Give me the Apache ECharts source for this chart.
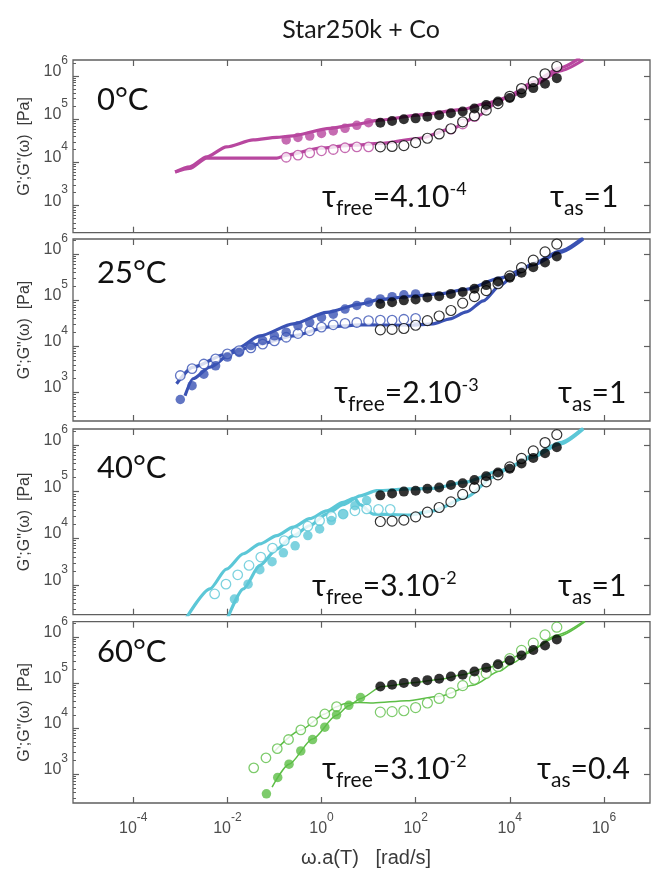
<!DOCTYPE html>
<html><head><meta charset="utf-8">
<script src="https://cdn.jsdelivr.net/npm/echarts@6/dist/echarts.min.js"></script>
<style>html,body{margin:0;padding:0;background:#fff}#c{width:652px;height:869px}</style>
</head><body><div id="c"></div>
<script>
// ---------------- DATA (log10 values) ----------------
const xTickExps = [-4, -2, 0, 2, 4, 6];
const yTickExps = [3, 4, 5, 6];
const panelTemps = ['0°C', '25°C', '40°C', '60°C'];
const tauFreeMant = ['4', '2', '3', '3'];
const tauFreeExp = ['-4', '-3', '-2', '-2'];
const tauAsVals = ['1', '1', '1', '0.4'];
const xRangeExp = [-5.28, 6.98];
const yMinExp = [2.375, 2.384, 2.366, 2.37];
const yMaxExp = [6.37, 6.33, 6.34, 6.34];

// reference (black) data, shared by the four panels
const refLogW   = [1.25, 1.5, 1.75, 2.0, 2.25, 2.5, 2.75, 3.0, 3.25, 3.5, 3.75, 4.0, 4.25, 4.5, 4.75, 5.0];
const refLogGp  = [4.92, 4.96, 5.00, 5.02, 5.06, 5.09, 5.14, 5.18, 5.25, 5.33, 5.41, 5.49, 5.60, 5.72, 5.82, 5.95];
const refLogGpp = [4.36, 4.37, 4.39, 4.46, 4.56, 4.66, 4.78, 4.94, 5.08, 5.21, 5.36, 5.53, 5.71, 5.87, 6.05, 6.22];

// panel 1 : 0°C
const p1GpW  = [-0.75, -0.5, -0.25, 0, 0.25, 0.5, 0.75, 1.0];
const p1GpV  = [4.52, 4.58, 4.61, 4.67, 4.73, 4.79, 4.86, 4.92];
const p1GppW = [-0.75, -0.5, -0.25, 0, 0.25, 0.5, 0.75, 1.0, 2.75, 3.0, 3.25];
const p1GppV = [4.12, 4.17, 4.22, 4.27, 4.30, 4.34, 4.36, 4.36, 4.77, 4.89, 5.06];
const p1FitGpW  = [-3.11, -2.80, -2.44, -2.02, -1.45, -0.95, -0.67, 0.18, 0.67, 1.24, 2.09, 3.01, 3.51, 4.0, 4.50, 5.07, 5.56];
const p1FitGpV  = [3.78, 3.90, 4.13, 4.36, 4.52, 4.58, 4.61, 4.79, 4.87, 4.98, 5.10, 5.23, 5.37, 5.52, 5.79, 6.12, 6.37];
const p1FitGppW = [-3.11, -2.80, -2.44, -0.95, -0.74, -0.03, 0.67, 1.24, 2.09, 2.79, 3.30, 3.72, 4.0, 4.5, 5.07, 5.49];
const p1FitGppV = [3.78, 3.86, 4.10, 4.10, 4.17, 4.33, 4.40, 4.44, 4.56, 4.79, 5.06, 5.37, 5.56, 5.86, 6.19, 6.42];

// panel 2 : 25°C
const p2GpW  = [-3.0, -2.75, -2.5, -2.25, -2.0, -1.75, -1.5, -1.25, -1.0, -0.75, -0.5, -0.25, 0, 0.25, 0.5, 0.75, 1.0, 1.25, 1.5, 1.75, 2.0];
const p2GpV  = [2.85, 3.15, 3.40, 3.58, 3.77, 3.87, 4.02, 4.13, 4.23, 4.31, 4.45, 4.52, 4.63, 4.70, 4.81, 4.89, 4.96, 5.03, 5.08, 5.12, 5.14];
const p2GppW = [-3.0, -2.75, -2.5, -2.25, -2.0, -1.75, -1.5, -1.25, -1.0, -0.75, -0.5, -0.25, 0, 0.25, 0.5, 0.75, 1.0, 1.25, 1.5, 1.75, 2.0];
const p2GppV = [3.37, 3.52, 3.62, 3.73, 3.84, 3.91, 3.97, 4.05, 4.12, 4.20, 4.28, 4.34, 4.42, 4.47, 4.50, 4.52, 4.56, 4.57, 4.57, 4.59, 4.61];
const p2FitGpW  = [-2.90, -2.73, -2.37, -1.80, -1.31, -0.60, 0.11, 0.82, 1.25, 2.0, 2.5, 3.08, 3.79, 4.50, 5.07, 5.56];
const p2FitGpV  = [2.93, 3.30, 3.55, 3.95, 4.23, 4.49, 4.74, 4.92, 5.02, 5.10, 5.14, 5.24, 5.48, 5.77, 6.04, 6.33];
const p2FitGppW = [-3.08, -2.73, -2.02, -1.31, -0.60, 0.11, 0.82, 1.88, 2.37, 2.73, 3.08, 3.44, 3.79, 4.1, 4.5, 5.07, 5.56];
const p2FitGppV = [3.19, 3.55, 3.84, 4.05, 4.23, 4.42, 4.47, 4.46, 4.49, 4.60, 4.75, 4.99, 5.32, 5.55, 5.80, 6.07, 6.36];

// panel 3 : 40°C
const p3GpW  = [-1.85, -1.56, -1.31, -1.05, -0.81, -0.56, -0.29, -0.04, 0.21, 0.46, 0.71, 0.96];
const p3GpV  = [2.70, 3.02, 3.33, 3.50, 3.69, 3.84, 4.06, 4.20, 4.38, 4.52, 4.70, 4.81];
const p3GppW = [-2.27, -2.03, -1.78, -1.54, -1.29, -1.04, -0.79, -0.54, -0.29, -0.04, 0.21, 0.46, 0.71, 0.96, 1.21, 1.46];
const p3GppV = [2.81, 3.02, 3.22, 3.42, 3.60, 3.79, 3.95, 4.13, 4.26, 4.38, 4.47, 4.52, 4.59, 4.63, 4.62, 4.62];
const p3FitGpW  = [-2.0, -1.66, -1.31, -0.95, -0.60, -0.25, 0.11, 0.46, 0.82, 1.17, 1.88, 2.37, 3.08, 3.79, 4.50, 5.07, 5.56];
const p3FitGpV  = [2.28, 2.92, 3.42, 3.77, 4.06, 4.27, 4.52, 4.72, 4.91, 5.02, 5.06, 5.07, 5.21, 5.45, 5.74, 6.02, 6.34];
const p3FitGppW = [-2.90, -2.37, -2.02, -1.66, -1.31, -0.95, -0.60, -0.25, 0.11, 0.46, 0.70, 0.82, 1.10, 1.88, 2.37, 3.08, 3.65, 4.0, 4.5, 5.07, 5.56];
const p3FitGppV = [2.25, 2.92, 3.34, 3.67, 3.88, 4.06, 4.24, 4.42, 4.59, 4.77, 4.86, 4.72, 4.52, 4.50, 4.59, 4.88, 5.31, 5.52, 5.78, 6.05, 6.36];

// panel 4 : 60°C
const p4GpW  = [-1.17, -0.93, -0.69, -0.44, -0.19, 0.07, 0.32, 0.58, 0.83];
const p4GpV  = [2.57, 2.93, 3.22, 3.51, 3.76, 4.03, 4.30, 4.51, 4.68];
const p4GppW = [-1.44, -1.18, -0.94, -0.70, -0.44, -0.19, 0.07, 0.32];
const p4GppV = [3.14, 3.36, 3.56, 3.76, 3.97, 4.15, 4.32, 4.48];
const p4FitGpW  = [-1.05, -0.69, -0.19, 0.32, 0.58, 0.83, 1.28, 2.0, 2.52, 3.0, 3.51, 4.29, 5.01, 5.60];
const p4FitGpV  = [2.72, 3.22, 3.77, 4.29, 4.50, 4.66, 4.92, 5.01, 5.08, 5.18, 5.33, 5.62, 6.01, 6.34];
const p4FitGppW = [-1.0, -0.44, 0.07, 0.32, 0.5, 0.8, 1.10, 1.81, 2.52, 3.22, 3.79, 4.07, 4.5, 5.0, 5.6];
const p4FitGppV = [3.50, 3.97, 4.32, 4.48, 4.55, 4.57, 4.56, 4.61, 4.71, 4.95, 5.26, 5.44, 5.75, 6.05, 6.37];

// ---------------- LAYOUT / STYLE ----------------
const panels = [
  {gp: [p1GpW, p1GpV], gpp: [p1GppW, p1GppV], fgp: [p1FitGpW, p1FitGpV], fgpp: [p1FitGppW, p1FitGppV]},
  {gp: [p2GpW, p2GpV], gpp: [p2GppW, p2GppV], fgp: [p2FitGpW, p2FitGpV], fgpp: [p2FitGppW, p2FitGppV]},
  {gp: [p3GpW, p3GpV], gpp: [p3GppW, p3GppV], fgp: [p3FitGpW, p3FitGpV], fgpp: [p3FitGppW, p3FitGppV]},
  {gp: [p4GpW, p4GpV], gpp: [p4GppW, p4GppV], fgp: [p4FitGpW, p4FitGpV], fgpp: [p4FitGppW, p4FitGppV]}
];
const colors = ['#B8479F', '#3A52B4', '#5CC7D7', '#5DBE46'];
const fitWidths = [3.2, 3.2, 3.2, 1.5];
const refOpenColors = ['#000', '#000', '#000', '#5DBE46'];
const grids = [
  {top: 60, height: 172.7},
  {top: 239, height: 182},
  {top: 429, height: 185.7},
  {top: 621.7, height: 183.3}
];
const tempTops = [84, 257, 452, 636];
const tauTops = [176, 372, 565, 748];
const tauFreeLeft = [322, 334, 312, 322];
const tauAsLeft = [550, 558, 558, 537];

const pow10 = e => Math.pow(10, e);
const pts = (ws, vs) => ws.map((w, i) => [pow10(w), pow10(vs[i])]);
const xTicks = xTickExps.map(pow10);
const yTicks = yTickExps.map(pow10);

function minorTicks(minE, maxE) {
  const out = [];
  for (let e = Math.floor(minE); e <= Math.ceil(maxE); e++) {
    for (let m = 2; m <= 9; m++) {
      const v = m * pow10(e);
      if (v > pow10(minE) && v < pow10(maxE)) out.push(v);
    }
  }
  return out;
}

const tickFont = 'Liberation Sans, Arial, sans-serif';
const tickColor = '#4d4d4d';
const frameColor = '#5f5f5f';
const labelRich = {
  b: {fontSize: 16, lineHeight: 16, fontFamily: tickFont, color: tickColor, verticalAlign: 'bottom'},
  s: {fontSize: 12, lineHeight: 12, fontFamily: tickFont, color: tickColor, verticalAlign: 'bottom', padding: [0, 0, 13, 0]}
};
const expFormatter = v => '{b|10}{s|' + Math.round(Math.log10(v)) + '}';

const gridOpt = [], xAxes = [], yAxes = [], series = [];
const annFont = 'Lato, "Noto Sans", sans-serif';

grids.forEach((g, i) => {
  gridOpt.push({left: 73, right: 2, top: g.top, height: g.height, show: true,
    borderColor: frameColor, borderWidth: 1.3, backgroundColor: 'transparent'});
  const xBase = {
    type: 'log', gridIndex: i, min: pow10(xRangeExp[0]), max: pow10(xRangeExp[1]),
    axisLine: {show: false}, splitLine: {show: false}, minorTick: {show: false},
    axisTick: {show: true, inside: true, length: 6, customValues: xTicks, lineStyle: {color: frameColor, width: 1.2}}
  };
  xAxes.push(Object.assign({}, xBase, {
    position: 'bottom',
    axisLabel: {show: i === 3, customValues: xTicks, formatter: expFormatter, rich: labelRich, margin: 18},
    name: i === 3 ? 'ω.a(T)   [rad/s]' : '', nameLocation: 'middle', nameGap: 45,
    nameTextStyle: {fontSize: 20, fontFamily: tickFont, color: '#3a3a3a', padding: [0, 0, 0, 9]}
  }));
  xAxes.push(Object.assign({}, xBase, {position: 'top', axisLabel: {show: false}}));

  const yBase = {
    type: 'log', gridIndex: i, min: pow10(yMinExp[i]), max: pow10(yMaxExp[i]),
    axisLine: {show: false}, splitLine: {show: false}, minorTick: {show: false}
  };
  yAxes.push(Object.assign({}, yBase, {
    position: 'left',
    axisTick: {show: true, inside: true, length: 6, customValues: yTicks, lineStyle: {color: frameColor, width: 1.2}},
    axisLabel: {show: true, customValues: yTicks, formatter: expFormatter, rich: labelRich, margin: 5, padding: [0, 0, 9, 0]},
    name: 'G\';G"(ω)  [Pa]', nameLocation: 'middle', nameGap: 40,
    nameTextStyle: {fontSize: 16, fontFamily: tickFont, color: '#3a3a3a'}
  }));
  yAxes.push(Object.assign({}, yBase, {
    position: 'left',
    axisTick: {show: true, inside: true, length: 3, customValues: minorTicks(yMinExp[i], yMaxExp[i]), lineStyle: {color: frameColor, width: 1}},
    axisLabel: {show: false}
  }));
  yAxes.push(Object.assign({}, yBase, {
    position: 'right',
    axisTick: {show: true, inside: true, length: 6, customValues: yTicks, lineStyle: {color: frameColor, width: 1.2}},
    axisLabel: {show: false}
  }));

  const p = panels[i];
  const xi = 2 * i, yi = 3 * i;
  const lineBase = {type: 'line', xAxisIndex: xi, yAxisIndex: yi, symbol: 'none', smooth: 0.25,
    smoothMonotone: 'x', z: 2, silent: true, clip: true};
  series.push(Object.assign({}, lineBase, {name: 'fit G\' ' + panelTemps[i], data: pts(p.fgp[0], p.fgp[1]),
    lineStyle: {color: colors[i], width: fitWidths[i]}}));
  series.push(Object.assign({}, lineBase, {name: 'fit G" ' + panelTemps[i], data: pts(p.fgpp[0], p.fgpp[1]),
    lineStyle: {color: colors[i], width: fitWidths[i]}}));
  series.push({type: 'scatter', xAxisIndex: xi, yAxisIndex: yi, z: 3, symbol: 'circle', symbolSize: 9.5,
    data: pts(p.gpp[0], p.gpp[1]), itemStyle: {color: '#fff', borderColor: colors[i], borderWidth: 1.3}});
  series.push({type: 'scatter', xAxisIndex: xi, yAxisIndex: yi, z: 3, symbol: 'circle', symbolSize: 9.5,
    data: pts(p.gp[0], p.gp[1]), itemStyle: {color: colors[i]}});
  series.push({type: 'scatter', xAxisIndex: xi, yAxisIndex: yi, z: 4, symbol: 'circle', symbolSize: 10,
    data: pts(refLogW, refLogGpp), itemStyle: {color: '#fff', borderColor: refOpenColors[i], borderWidth: 1.2}});
  series.push({type: 'scatter', xAxisIndex: xi, yAxisIndex: yi, z: 4, symbol: 'circle', symbolSize: 10,
    data: pts(refLogW, refLogGp), itemStyle: {color: '#000'}});
});

const titles = [{
  text: 'Star250k + Co', left: 361, top: 17, textAlign: 'center', textVerticalAlign: 'top', padding: 0,
  textStyle: {fontSize: 25, fontWeight: 'normal', fontFamily: annFont, color: '#1a1a1a'}
}];
const tok = (fs, pad) => ({fontSize: fs, lineHeight: fs, fontWeight: 'normal', fontFamily: annFont, color: '#111',
  verticalAlign: 'top', padding: [pad, 0, 0, 0]});
const tauRich = {m: tok(30, 6), sub: tok(21, 22), sup: tok(18, 4)};
panelTemps.forEach((t, i) => {
  titles.push({text: t, left: 97, top: tempTops[i], textAlign: 'left', textVerticalAlign: 'top', padding: 0,
    textStyle: {fontSize: 31, fontWeight: 'normal', fontFamily: annFont, color: '#111'}});
  titles.push({text: '{m|τ}{sub|free}{m|=' + tauFreeMant[i] + '.10}{sup|' + tauFreeExp[i] + '}',
    left: tauFreeLeft[i], top: tauTops[i], textAlign: 'left', textVerticalAlign: 'top', padding: 0,
    textStyle: {fontWeight: 'normal', rich: tauRich}});
  titles.push({text: '{m|τ}{sub|as}{m|=' + tauAsVals[i] + '}',
    left: tauAsLeft[i], top: tauTops[i], textAlign: 'left', textVerticalAlign: 'top', padding: 0,
    textStyle: {fontWeight: 'normal', rich: tauRich}});
});

const chart = echarts.init(document.getElementById('c'), null, {renderer: 'canvas', width: 652, height: 869});
chart.setOption({
  animation: false,
  backgroundColor: '#fff',
  title: titles,
  grid: gridOpt,
  xAxis: xAxes,
  yAxis: yAxes,
  series: series
});
</script>
</body></html>
